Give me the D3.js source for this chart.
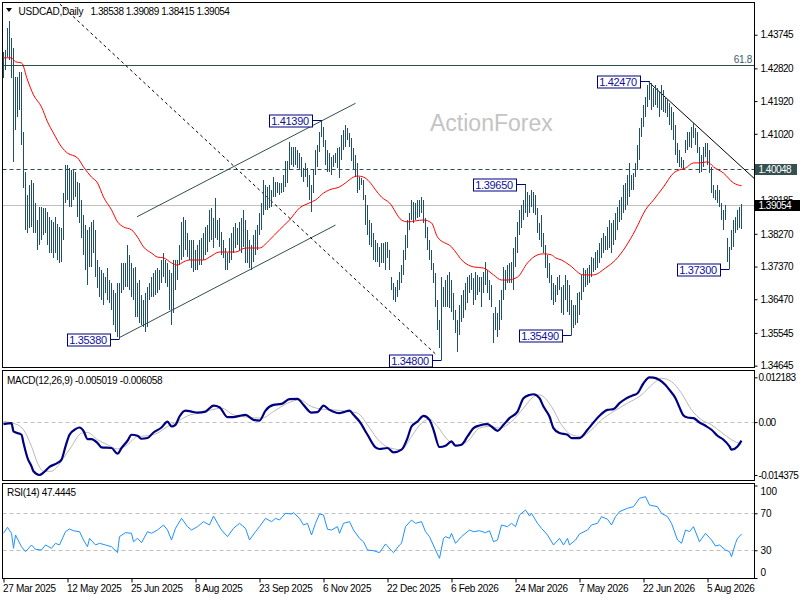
<!DOCTYPE html>
<html><head><meta charset="utf-8">
<script src="https://cdn.jsdelivr.net/npm/d3@7/dist/d3.min.js"></script>
<style>
body{margin:0;background:#fff}
text{font-family:"Liberation Sans",Arial,sans-serif;}
</style>
</head><body>
<svg id="c" width="800" height="600"></svg>
<script>
// ---------- DATA ----------
const symbolTitle = "USDCAD,Daily";
const lastOHLC = [1.38538, 1.39089, 1.38415, 1.39054];
const highs = [
1.4327,1.4333,1.4393,1.4412,1.4366,1.4338,1.4258,1.4258,1.4272,1.4272,
1.4107,1.3997,1.3934,1.3961,1.3975,1.3967,1.3912,1.3865,1.3901,1.3901,
1.3898,1.3898,1.3887,1.3873,1.3865,1.3860,1.3873,1.3854,1.3846,1.3843,
1.3939,1.4016,1.4016,1.4008,1.4003,1.4003,1.3997,1.3970,1.3967,1.3920,
1.3879,1.3851,1.3838,1.3846,1.3860,1.3865,1.3838,1.3755,1.3736,1.3728,
1.3719,1.3708,1.3733,1.3700,1.3692,1.3673,1.3664,1.3692,1.3692,1.3747,
1.3747,1.3747,1.3796,1.3769,1.3747,1.3733,1.3736,1.3692,1.3700,1.3659,
1.3645,1.3664,1.3681,1.3692,1.3708,1.3719,1.3728,1.3733,1.3728,1.3755,
1.3774,1.3755,1.3747,1.3728,1.3719,1.3755,1.3755,1.3755,1.3796,1.3860,
1.3873,1.3865,1.3829,1.3810,1.3810,1.3810,1.3783,1.3796,1.3810,1.3816,
1.3829,1.3846,1.3851,1.3893,1.3898,1.3871,1.3926,1.3865,1.3871,1.3832,
1.3810,1.3788,1.3774,1.3816,1.3829,1.3846,1.3857,1.3843,1.3860,1.3871,
1.3893,1.3865,1.3838,1.3810,1.3796,1.3824,1.3838,1.3851,1.3884,1.3912,
1.3975,1.3961,1.3956,1.3961,1.3948,1.3983,1.3970,1.3970,1.3967,1.3967,
1.3989,1.4026,1.4026,1.4080,1.4066,1.4066,1.4066,1.4058,1.4049,1.4038,
1.4008,1.4022,1.4008,1.3989,1.3961,1.4003,1.4058,1.4071,1.4107,1.4139,
1.4121,1.4085,1.4058,1.4049,1.4038,1.4044,1.4049,1.4063,1.4066,1.4099,
1.4113,1.4126,1.4118,1.4104,1.4091,1.4063,1.4044,1.4022,1.3983,1.3981,
1.3975,1.3934,1.3906,1.3865,1.3857,1.3829,1.3810,1.3802,1.3791,1.3802,
1.3802,1.3805,1.3805,1.3783,1.3708,1.3692,1.3681,1.3700,1.3722,1.3741,
1.3783,1.3824,1.3865,1.3884,1.3920,1.3915,1.3912,1.3920,1.3920,1.3928,
1.3920,1.3871,1.3846,1.3810,1.3783,1.3747,1.3719,1.3645,1.3590,1.3708,
1.3681,1.3700,1.3714,1.3722,1.3700,1.3664,1.3618,1.3590,1.3631,1.3659,
1.3673,1.3692,1.3708,1.3714,1.3719,1.3706,1.3722,1.3714,1.3708,1.3708,
1.3722,1.3750,1.3728,1.3700,1.3686,1.3609,1.3626,1.3609,1.3645,1.3673,
1.3736,1.3728,1.3741,1.3747,1.3750,1.3788,1.3818,1.3860,1.3893,1.3906,
1.3920,1.3965,1.3942,1.3934,1.3948,1.3942,1.3934,1.3898,1.3857,1.3879,
1.3829,1.3796,1.3769,1.3747,1.3714,1.3692,1.3686,1.3708,1.3714,1.3681,
1.3686,1.3714,1.3700,1.3686,1.3645,1.3631,1.3631,1.3664,1.3667,1.3714,
1.3733,1.3728,1.3733,1.3741,1.3763,1.3761,1.3777,1.3783,1.3802,1.3816,
1.3829,1.3821,1.3846,1.3865,1.3857,1.3865,1.3884,1.3901,1.3920,1.3928,
1.3961,1.3967,1.3989,1.4022,1.3989,1.3994,1.4022,1.4071,1.4118,1.4146,
1.4181,1.4203,1.4236,1.4247,1.4242,1.4228,1.4236,1.4228,1.4217,1.4236,
1.4223,1.4203,1.4195,1.4187,1.4176,1.4162,1.4126,1.4077,1.4058,1.4038,
1.4030,1.4085,1.4107,1.4107,1.4121,1.4132,1.4118,1.4107,1.4066,1.4044,
1.4066,1.4077,1.4077,1.4058,1.4011,1.3961,1.3948,1.3961,1.3948,1.3912,
1.3893,1.3906,1.3816,1.3791,1.3838,1.3865,1.3873,1.3893,1.3901,1.39089];
const lows = [
1.4256,1.4278,1.4313,1.4305,1.4256,1.4025,1.4113,1.4148,1.4168,1.4071,
1.3953,1.3838,1.3829,1.3843,1.3846,1.3829,1.3829,1.3783,1.3796,1.3810,
1.3824,1.3829,1.3796,1.3774,1.3774,1.3761,1.3774,1.3755,1.3747,1.3750,
1.3810,1.3912,1.3920,1.3901,1.3901,1.3920,1.3928,1.3873,1.3857,1.3816,
1.3769,1.3728,1.3686,1.3736,1.3736,1.3774,1.3708,1.3678,1.3653,1.3645,
1.3631,1.3664,1.3645,1.3637,1.3618,1.3576,1.3557,1.3543,1.3538,1.3664,
1.3673,1.3681,1.3681,1.3673,1.3653,1.3645,1.3598,1.3598,1.3582,1.3576,
1.3571,1.3557,1.3571,1.3645,1.3653,1.3653,1.3659,1.3664,1.3673,1.3692,
1.3708,1.3692,1.3681,1.3618,1.3576,1.3609,1.3673,1.3700,1.3741,1.3755,
1.3763,1.3783,1.3763,1.3755,1.3733,1.3722,1.3728,1.3728,1.3741,1.3741,
1.3755,1.3769,1.3777,1.3805,1.3810,1.3788,1.3816,1.3810,1.3791,1.3769,
1.3761,1.3728,1.3728,1.3747,1.3755,1.3774,1.3788,1.3796,1.3783,1.3774,
1.3791,1.3747,1.3747,1.3733,1.3728,1.3750,1.3769,1.3783,1.3824,1.3838,
1.3879,1.3893,1.3893,1.3898,1.3901,1.3928,1.3928,1.3939,1.3934,1.3939,
1.3942,1.3956,1.3967,1.4003,1.4016,1.4011,1.4016,1.4008,1.4003,1.3983,
1.3970,1.3983,1.3956,1.3920,1.3887,1.3939,1.3989,1.4011,1.4052,1.4093,
1.4066,1.4016,1.3997,1.3997,1.3989,1.4011,1.4022,1.4008,1.3981,1.4030,
1.4058,1.4066,1.4085,1.4066,1.4026,1.4003,1.3983,1.3939,1.3948,1.3961,
1.3920,1.3851,1.3824,1.3796,1.3791,1.3755,1.3750,1.3750,1.3736,1.3747,
1.3747,1.3728,1.3761,1.3728,1.3673,1.3645,1.3640,1.3653,1.3673,1.3692,
1.3714,1.3755,1.3788,1.3838,1.3865,1.3857,1.3865,1.3871,1.3873,1.3884,
1.3857,1.3816,1.3783,1.3755,1.3728,1.3692,1.3626,1.3563,1.3513,1.3480,
1.3626,1.3626,1.3626,1.3623,1.3612,1.3590,1.3554,1.3502,1.3549,1.3585,
1.3596,1.3618,1.3637,1.3664,1.3673,1.3631,1.3645,1.3659,1.3667,1.3626,
1.3664,1.3686,1.3664,1.3645,1.3626,1.3527,1.3563,1.3543,1.3563,1.3590,
1.3645,1.3673,1.3692,1.3692,1.3692,1.3673,1.3736,1.3774,1.3824,1.3843,
1.3865,1.3884,1.3873,1.3884,1.3901,1.3884,1.3879,1.3829,1.3810,1.3791,
1.3774,1.3733,1.3706,1.3692,1.3645,1.3631,1.3640,1.3659,1.3673,1.3609,
1.3604,1.3645,1.3612,1.3604,1.3549,1.3568,1.3576,1.3582,1.3604,1.3645,
1.3667,1.3681,1.3686,1.3692,1.3708,1.3722,1.3728,1.3733,1.3747,1.3761,
1.3774,1.3783,1.3783,1.3788,1.3774,1.3796,1.3810,1.3838,1.3860,1.3865,
1.3884,1.3893,1.3906,1.3928,1.3948,1.3948,1.3983,1.4003,1.4030,1.4093,
1.4121,1.4148,1.4176,1.4195,1.4168,1.4176,1.4181,1.4173,1.4148,1.4168,
1.4162,1.4159,1.4148,1.4126,1.4113,1.4085,1.4044,1.4022,1.4011,1.4008,
1.4003,1.4049,1.4058,1.4066,1.4063,1.4091,1.4071,1.4049,1.3994,1.3997,
1.4011,1.4038,1.4016,1.3994,1.3939,1.3926,1.3920,1.3912,1.3901,1.3865,
1.3838,1.3865,1.3750,1.3730,1.3783,1.3791,1.3829,1.3838,1.3843,1.38415];

// moving average (red), read at sampled bars
const maIdx = [0,4,6,9,12,15,19,22,25,29,32,37,40,44,47,50,54,57,60,64,67,70,74,77,80,84,87,90,93,100,103,108,116,121,128,133,138,143,148,153,156,160,163,168,171,175,177,180,183,186,189,193,199,202,210,214,217,224,230,235,240,245,249,252,257,262,267,270,274,276,279,283,290,295,301,306,311,316,321,325,330,335,338,341,345,348,352,355,360,365,369];
const maVal = [1.4311,1.4311,1.4300,1.4297,1.4250,1.4209,1.4176,1.4135,1.4104,1.4066,1.4049,1.4036,1.4011,1.3983,1.3967,1.3928,1.3893,1.3860,1.3846,1.3838,1.3818,1.3791,1.3774,1.3763,1.3761,1.3747,1.3741,1.3750,1.3755,1.3755,1.3763,1.3777,1.3777,1.3788,1.3788,1.3810,1.3838,1.3865,1.3898,1.3912,1.3920,1.3939,1.3948,1.3956,1.3967,1.3983,1.3986,1.3983,1.3970,1.3948,1.3928,1.3912,1.3865,1.3860,1.3865,1.3857,1.3818,1.3791,1.3750,1.3736,1.3733,1.3714,1.3700,1.3700,1.3708,1.3747,1.3769,1.3772,1.3769,1.3761,1.3755,1.3741,1.3714,1.3714,1.3733,1.3755,1.3791,1.3838,1.3893,1.3920,1.3956,1.3994,1.4003,1.4008,1.4022,1.4022,1.4025,1.4011,1.3994,1.3967,1.3959];

// MACD(12,26,9) main line and signal, read at sampled bars
const macdIdx = [0,4,5,9,10,12,14,15,18,20,23,27,29,31,33,36,38,40,42,44,47,49,54,57,59,62,64,67,69,72,75,79,82,84,86,88,91,94,97,101,105,108,112,115,118,121,125,128,131,135,139,143,147,150,154,157,160,163,168,170,173,175,178,182,186,188,192,195,199,202,204,207,210,213,215,218,221,224,226,229,232,235,238,242,244,247,250,253,257,260,263,265,268,270,273,275,278,282,284,288,292,295,298,302,305,308,311,314,317,320,323,325,328,331,333,336,338,340,342,345,348,351,354,357,360,363,364,367,369];
const macdVal = [-0.00054,-0.00027,-0.00254,-0.00344,-0.00568,-0.00975,-0.01202,-0.01337,-0.014375,-0.01370,-0.01218,-0.01110,-0.01020,-0.00660,-0.00344,-0.00190,-0.00146,-0.00236,-0.00460,-0.00460,-0.00568,-0.00688,-0.00704,-0.00858,-0.00704,-0.00506,-0.00344,-0.00371,-0.00452,-0.00433,-0.00282,-0.00146,0.00016,-0.00119,-0.00073,0.00152,0.00314,0.00287,0.00260,0.00287,0.00449,0.00406,0.00135,0.00135,0.00171,0.00198,0.00062,0.00043,0.00314,0.00468,0.00495,0.00623,0.00631,0.00468,0.00260,0.00271,0.00449,0.00333,0.00244,0.00271,0.00314,0.00198,0.00016,-0.00344,-0.00688,-0.00731,-0.00704,-0.00823,-0.00750,-0.00433,-0.00119,0.00016,0.00171,0.00062,-0.00208,-0.00677,-0.00642,-0.00525,-0.00642,-0.00614,-0.00390,-0.00162,-0.00092,-0.00054,-0.00119,-0.00236,-0.00073,0.00108,0.00287,0.00650,0.00739,0.00758,0.00650,0.00422,0.00152,-0.00162,-0.00298,-0.00344,-0.00433,-0.00433,-0.00208,-0.00011,0.00171,0.00333,0.00352,0.00514,0.00631,0.00712,0.00785,0.01056,0.012183,0.01210,0.01145,0.01010,0.00875,0.00650,0.00400,0.00180,0.00125,0.00108,-0.00011,-0.00100,-0.00208,-0.00371,-0.00479,-0.00660,-0.00750,-0.00660,-0.005019];
const signalIdx = [0,7,10,14,17,20,24,27,30,34,39,42,47,52,57,62,67,72,77,82,87,92,99,104,109,115,122,129,135,142,148,154,159,165,172,177,182,187,192,199,204,209,213,217,222,227,232,238,243,248,254,260,265,268,274,279,284,289,294,299,305,312,319,325,329,334,339,344,349,354,359,364,369];
const signalVal = [0.00016,-0.00073,-0.00208,-0.00660,-0.01110,-0.01337,-0.01337,-0.01200,-0.00975,-0.00660,-0.00298,-0.00282,-0.00479,-0.00614,-0.00731,-0.00614,-0.00390,-0.00371,-0.00298,-0.00119,0.00016,0.00171,0.00260,0.00333,0.00379,0.00198,0.00135,0.00108,0.00287,0.00514,0.00604,0.00422,0.00352,0.00333,0.00287,0.00244,-0.00073,-0.00460,-0.00677,-0.00750,-0.00390,-0.00027,0.00081,-0.00119,-0.00479,-0.00614,-0.00525,-0.00162,-0.00119,-0.00162,0.00016,0.00379,0.00693,0.00739,0.00422,-0.00073,-0.00344,-0.00390,-0.00208,0.00062,0.00287,0.00514,0.00739,0.01056,0.01190,0.01100,0.00785,0.00333,0.00062,-0.00073,-0.00282,-0.00479,-0.006058];

// RSI(14), read at sampled bars
const rsiIdx = [0,2,4,5,6,9,11,14,16,19,21,24,26,28,31,33,35,38,40,42,43,46,48,51,54,57,58,61,64,65,67,69,72,74,77,80,82,84,86,89,92,94,97,100,103,105,107,109,112,115,118,121,123,126,128,131,134,136,138,141,144,145,148,150,152,154,156,158,160,162,164,167,168,170,173,175,178,180,182,185,188,191,194,195,198,199,201,204,206,209,211,213,216,218,220,221,223,224,226,229,233,235,238,241,243,245,247,249,252,254,256,258,261,263,264,267,269,272,275,278,280,282,283,286,288,292,294,297,299,302,304,306,308,312,315,318,321,323,327,329,332,334,337,339,341,343,345,348,351,354,356,358,361,363,364,366,367,369];
const rsiVal = [48.3,54.8,48.3,32.1,46.5,33.8,28.5,35.7,31,30.3,35.7,32.1,37.5,35.7,50.1,53,51.1,50.1,41.1,33.8,42.9,35.7,37.5,35.7,33.8,27.4,44.7,49,48.3,39.2,42.9,38.2,50.1,48.3,51.9,57.3,51.9,41.1,53.7,64.5,55.5,51.9,55.5,60.9,57.3,67,59.1,51.9,44.7,53.7,59.1,53.7,41.1,50.1,55.5,64.5,60.9,64.5,62.7,69.9,69.2,70.6,64.5,57.3,59.1,46.5,59.1,69.2,68.1,52.6,51.9,55.5,48.3,59.1,60.9,51.9,42.9,39.2,30.3,29.5,27.4,36.8,29.5,27.4,35.7,37.5,55.5,62.7,59.1,60.9,50.1,44.7,30.3,21.3,42.9,44.7,42.9,48.3,37.5,44.7,51.9,50.1,51.1,49,51.1,39.2,41.1,57.3,55.5,59.1,55.5,68.1,73.5,67,69.9,59.1,53.7,46.5,35.7,42.9,35.7,42.9,35.7,41.1,47.6,51.9,57.3,59.1,66.3,63.5,57.3,66.3,71.7,75.4,77.1,86.2,87.9,78.9,77.1,69.9,66.3,59.1,41.1,37.5,51.9,50.1,55.5,39.2,48.3,41.1,34.6,35.7,30.3,28.5,23,37.5,42.9,47.4445];

// axis labels
const priceTicks = [1.43745,1.42820,1.41920,1.41020,1.39185,1.38270,1.37370,1.36470,1.35545,1.34645];
const macdTicks = [0.012183, 0, -0.014375];
const rsiTicks = [100, 70, 30, 0];
const dateTickIdx = [0,32,64,96,128,160,192,224,256,288,320,352];
const dateLabels = ["27 Mar 2025","12 May 2025","25 Jun 2025","8 Aug 2025","23 Sep 2025","6 Nov 2025","22 Dec 2025","6 Feb 2026","24 Mar 2026","7 May 2026","22 Jun 2026","5 Aug 2026"];

// swing annotations
const annIdx = [58,159,219,261,284,323,363];
const annPrice = [1.35380,1.41390,1.34800,1.39650,1.35490,1.42470,1.37300];
const annText = ["1.35380","1.41390","1.34800","1.39650","1.35490","1.42470","1.37300"];

// drawn levels / trendlines (bar index, price)
const fibLevel = 1.4290, fibText = "61.8";
const resistLevel = 1.40048;
const lastPrice = 1.39054;
const dashedLine = [[26,1.4470],[216.5,1.3494]];
const channelLow = [[57.7,1.3541],[166,1.3851]];
const channelHigh = [[66.8,1.3874],[176,1.4186]];
const downTrend = [[322.5,1.4245],[376,1.3976]];

// ---------- DRAW ----------
const svg = d3.select("#c");
const L = 2.5, R = 754.5;
const x = d3.scaleLinear().domain([0, 369]).range([3.5, 741.5]);
const yP = d3.scaleLinear().domain([1.4470, 1.3470]).range([0, 363.64]);
const yM = d3.scaleLinear().domain([0.012183, -0.014375]).range([377.3, 475]);
const yR = d3.scaleLinear().domain([0, 100]).range([578, 485.5]);

const defs = svg.append("defs");
defs.append("clipPath").attr("id","cpMain").append("rect").attr("x",L).attr("y",2.5).attr("width",R-L).attr("height",365);
defs.append("clipPath").attr("id","cpMacd").append("rect").attr("x",L).attr("y",370.5).attr("width",R-L).attr("height",110);
defs.append("clipPath").attr("id","cpRsi").append("rect").attr("x",L).attr("y",483.5).attr("width",R-L).attr("height",95);
defs.append("clipPath").attr("id","cpHalf").append("rect").attr("x",755).attr("y",190).attr("width",45).attr("height",10);

const numFont = {size:"10px", ls:"-0.5px"};

// watermark
svg.append("text").attr("x",430).attr("y",131).attr("fill","#c4c4c4")
  .style("font-size","23px").text("ActionForex");

const gMain = svg.append("g").attr("clip-path","url(#cpMain)");

// horizontal levels
gMain.append("line").attr("x1",L).attr("x2",R).attr("y1",Math.round(yP(fibLevel))+0.5).attr("y2",Math.round(yP(fibLevel))+0.5)
  .attr("stroke","#2f4f4f").attr("stroke-width",1);
gMain.append("line").attr("x1",L).attr("x2",R).attr("y1",Math.round(yP(resistLevel))+0.5).attr("y2",Math.round(yP(resistLevel))+0.5)
  .attr("stroke","#2f4f4f").attr("stroke-dasharray","4,3");
gMain.append("line").attr("x1",L).attr("x2",R).attr("y1",Math.round(yP(lastPrice))+0.5).attr("y2",Math.round(yP(lastPrice))+0.5)
  .attr("stroke","#c0c0c0");

// trendlines
const tl = (pts, color, dash) => gMain.append("line")
  .attr("x1",x(pts[0][0])).attr("y1",yP(pts[0][1])).attr("x2",x(pts[1][0])).attr("y2",yP(pts[1][1]))
  .attr("stroke",color).attr("stroke-width",1).attr("stroke-dasharray",dash||null);
tl(dashedLine,"#000","3,3");
tl(channelLow,"#2f4f4f");
tl(channelHigh,"#2f4f4f");
tl(downTrend,"#000");

// price bars
gMain.append("g").selectAll("line").data(highs).join("line")
  .attr("x1",(d,i)=>x(i)).attr("x2",(d,i)=>x(i))
  .attr("y1",d=>yP(d)).attr("y2",(d,i)=>Math.max(yP(lows[i]), yP(d)+2))
  .attr("stroke","#204f68").attr("stroke-width",1).attr("shape-rendering","crispEdges");

// moving average
const ma = maIdx.map((d,i)=>[d,maVal[i]]);
gMain.append("path").datum(ma)
  .attr("d", d3.line().x(d=>x(d[0])).y(d=>yP(d[1])).curve(d3.curveMonotoneX))
  .attr("fill","none").attr("stroke","#ff0000").attr("stroke-width",1);

// 61.8 label
svg.append("text").attr("x",752).attr("y",yP(fibLevel)-2).attr("text-anchor","end")
  .attr("fill","#3d5c6b").style("font-size","10px").style("letter-spacing","-0.3px").text(fibText);

// swing annotations
const ann = svg.append("g");
annIdx.forEach((bi,k)=>{
  const bx = x(bi), by = Math.round(yP(annPrice[k]))+0.5;
  const w = 43, h = 12, right = bx - 10;
  ann.append("line").attr("x1",right).attr("x2",bx).attr("y1",by).attr("y2",by).attr("stroke","#000080");
  ann.append("rect").attr("x",Math.round(right-w)+0.5).attr("y",Math.round(by-h/2)).attr("width",w).attr("height",h)
    .attr("fill","#fff").attr("stroke","#000080").attr("stroke-width",1);
  ann.append("text").attr("x",right-w/2).attr("y",by+4).attr("text-anchor","middle")
    .attr("fill","#10109a").style("font-size","11px").style("letter-spacing","-0.3px").text(annText[k]);
});

// title
svg.append("path").attr("d","M6,8 L12,8 L9,12 Z").attr("fill","#000");
svg.append("text").attr("x",18.5).attr("y",14.5).style("font-size","10px").style("letter-spacing","-0.2px").attr("fill","#000").text(symbolTitle);
svg.append("text").attr("x",90.5).attr("y",14.5).style("font-size","10px").style("letter-spacing","-0.45px").attr("fill","#000")
  .text(lastOHLC.map(v=>v.toFixed(5)).join(" "));

// price axis
const axP = svg.append("g").attr("transform",`translate(${R},0)`)
  .call(d3.axisRight(yP).tickValues(priceTicks).tickFormat(d3.format(".5f")).tickSize(3).tickPadding(3));
axP.select(".domain").remove();
axP.selectAll("text").style("font-size",numFont.size).style("letter-spacing",numFont.ls).attr("fill","#000").style("font-family",'"Liberation Sans",Arial,sans-serif');
axP.selectAll("line").attr("stroke","#000");
// the label just above the last-price box is half hidden by it, as in the original
axP.selectAll(".tick").filter(d=>d===1.39185).select("text").attr("clip-path","url(#cpHalfLocal)");
axP.selectAll(".tick").filter(d=>d===1.39185).each(function(){
  const t = d3.select(this);
  const yy = yP(1.39185);
  t.append("clipPath").attr("id","cpHalfLocal").append("rect").attr("x",0).attr("y",-10).attr("width",46).attr("height",yP(lastPrice)-5.5-yy+10);
});

// price boxes on axis
const box = (v, fill) => {
  const cy = yP(v);
  svg.append("rect").attr("x",755).attr("y",Math.round(cy-5.5)).attr("width",fill==="#000"?45:42).attr("height",11).attr("fill",fill);
  svg.append("text").attr("x",758.5).attr("y",cy+3.6).attr("fill","#fff").style("font-size","10px").style("letter-spacing","-0.5px").text(v.toFixed(5));
};
box(resistLevel,"#35504f");
box(lastPrice,"#000");

// MACD panel
const gM = svg.append("g").attr("clip-path","url(#cpMacd)");
gM.append("line").attr("x1",L).attr("x2",R).attr("y1",Math.round(yM(0))+0.5).attr("y2",Math.round(yM(0))+0.5)
  .attr("stroke","#c0c0c0").attr("stroke-dasharray","4,3");
gM.append("path").datum(signalIdx.map((d,i)=>[d,signalVal[i]]))
  .attr("d", d3.line().x(d=>x(d[0])).y(d=>yM(d[1])).curve(d3.curveMonotoneX))
  .attr("fill","none").attr("stroke","#b8b8b8").attr("stroke-width",1);
gM.append("path").datum(macdIdx.map((d,i)=>[d,macdVal[i]]))
  .attr("d", d3.line().x(d=>x(d[0])).y(d=>yM(d[1])).curve(d3.curveMonotoneX))
  .attr("fill","none").attr("stroke","#000080").attr("stroke-width",2.2);
svg.append("text").attr("x",7).attr("y",384).style("font-size","10px").style("letter-spacing","-0.3px").attr("fill","#000")
  .text(`MACD(12,26,9) ${macdVal[macdVal.length-1].toFixed(6)} ${signalVal[signalVal.length-1].toFixed(6)}`);
const axM = svg.append("g").attr("transform",`translate(${R},0)`)
  .call(d3.axisRight(yM).tickValues(macdTicks).tickFormat(d=>d===0?"0.00":d.toFixed(6)).tickSize(3).tickPadding(1));
axM.select(".domain").remove();
axM.selectAll("text").style("font-size",numFont.size).style("letter-spacing","-0.6px").attr("fill","#000").style("font-family",'"Liberation Sans",Arial,sans-serif');
axM.selectAll("line").attr("stroke","#000");

// RSI panel
const gR = svg.append("g").attr("clip-path","url(#cpRsi)");
[70,30].forEach(v=>gR.append("line").attr("x1",L).attr("x2",R).attr("y1",Math.round(yR(v))+0.5).attr("y2",Math.round(yR(v))+0.5)
  .attr("stroke","#c0c0c0").attr("stroke-dasharray","4,3"));
gR.append("path").datum(rsiIdx.map((d,i)=>[d,rsiVal[i]]))
  .attr("d", d3.line().x(d=>x(d[0])).y(d=>yR(d[1])))
  .attr("fill","none").attr("stroke","#1e90ff").attr("stroke-width",1);
svg.append("text").attr("x",7).attr("y",496).style("font-size","10px").style("letter-spacing","-0.3px").attr("fill","#000")
  .text(`RSI(14) ${rsiVal[rsiVal.length-1].toFixed(4)}`);
const axR = svg.append("g").attr("transform",`translate(${R},0)`)
  .call(d3.axisRight(yR).tickValues(rsiTicks).tickSize(3).tickPadding(3));
axR.select(".domain").remove();
axR.selectAll("text").style("font-size",numFont.size).attr("fill","#000").style("font-family",'"Liberation Sans",Arial,sans-serif')
  .attr("dy",d=>d===100?"0.85em":(d===0?"-0.3em":"0.32em"));
axR.selectAll("line").attr("stroke","#000");

// date axis
const axX = svg.append("g").attr("transform","translate(0,578.5)")
  .call(d3.axisBottom(x).tickValues(dateTickIdx).tickFormat((d,i)=>dateLabels[i]).tickSize(4).tickPadding(2));
axX.select(".domain").remove();
axX.selectAll("text").attr("text-anchor","start").attr("dx","-1").attr("y",13.5).attr("dy","0")
  .style("font-size","10px").style("letter-spacing","-0.3px").attr("fill","#000").style("font-family",'"Liberation Sans",Arial,sans-serif');
axX.selectAll("line").attr("stroke","#000");

// panel borders
[[2.5,367.5],[370.5,480.5],[483.5,578.5]].forEach(([t,b])=>{
  svg.append("rect").attr("x",L).attr("y",t).attr("width",R-L).attr("height",b-t)
    .attr("fill","none").attr("stroke","#000").attr("stroke-width",1);
});
</script>
</body></html>
